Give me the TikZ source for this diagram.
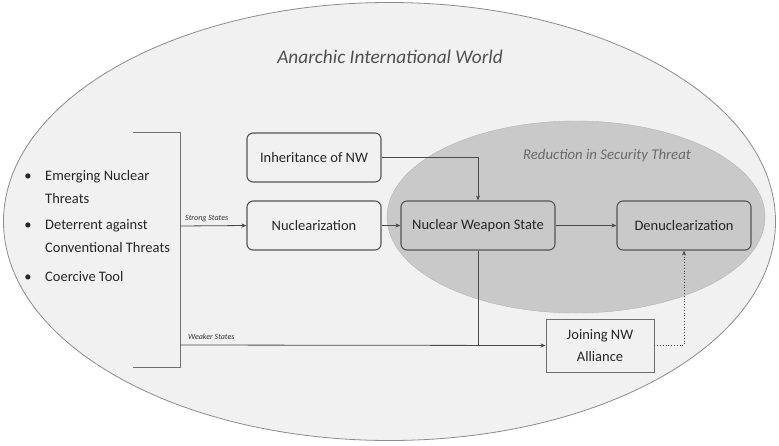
\documentclass[tikz,border=0pt]{standalone}
\usepackage{fontspec}
\setmainfont{Carlito}
\usetikzlibrary{arrows.meta,calc}
\definecolor{outerfill}{HTML}{F1F1F1}
\definecolor{outerline}{HTML}{8C8C8C}
\definecolor{innerfill}{HTML}{C9C9C9}
\definecolor{boxline}{HTML}{555555}
\definecolor{conline}{HTML}{4A4A4A}
\definecolor{titlegray}{HTML}{505050}
\definecolor{redgray}{HTML}{6A6A6A}
\tikzset{
  rbox/.style={draw=boxline, line width=1.1pt, rounded corners=6pt, minimum height=49pt, font=\fontsize{14.5}{17}\selectfont, text=black!85, inner sep=0pt},
  sbox/.style={draw=boxline!85, line width=0.9pt, minimum height=53pt, minimum width=108pt, font=\fontsize{14.5}{22}\selectfont, align=center, text=black!85, inner sep=0pt},
  con/.style={draw=conline, line width=0.8pt, -{Stealth[length=5pt,width=4pt]}},
  plain/.style={draw=conline, line width=0.8pt},
  item/.style={anchor=base west, font=\fontsize{14.5}{23}\selectfont, text=black!85, inner sep=0pt},
  bul/.style={anchor=base, font=\fontsize{14.5}{23}\selectfont, text=black!85, inner sep=0pt},
  lab/.style={font=\itshape\fontsize{8}{9}\selectfont, text=black!80, inner sep=0pt, anchor=base west}
}
\begin{document}
\begin{tikzpicture}[x=1pt,y=-1pt]
\useasboundingbox (0,0) rectangle (779,445);
\fill[white] (0,0) rectangle (779,445);
% outer world
\draw[fill=outerfill, draw=outerline, line width=0.8pt] (389.5,221.5) ellipse [x radius=386, y radius=219];
\node[font=\itshape\fontsize{19.3}{22}\selectfont, text=titlegray] (title) at (390,57) {Anarchic International World};
% inner ellipse
\draw[fill=innerfill, draw=innerfill!90!black, line width=0.4pt] (576,217) ellipse [x radius=189, y radius=96];
\node[font=\itshape\fontsize{14.8}{17}\selectfont, text=redgray] (red) at (607,156) {Reduction in Security Threat};
% bracket
\draw[draw=outerline!80!black, line width=0.8pt] (133,132) -- (180,132) -- (180,367) -- (133,367);
% bullets
\node[bul] (d1) at (28,180) {•};
\node[item] (i1a) at (45,180) {Emerging Nuclear};
\node[item] (i1b) at (45,203) {Threats};
\node[bul] (d2) at (28,229) {•};
\node[item] (i2a) at (45,229) {Deterrent against};
\node[item] (i2b) at (45,252) {Conventional Threats};
\node[bul] (d3) at (28,281) {•};
\node[item] (i3) at (45,281) {Coercive Tool};
% boxes
\node[rbox, minimum width=134pt] (inh) at (314,157.5) {Inheritance of NW};
\node[rbox, minimum width=134pt] (nuc) at (314,225.5) {Nuclearization};
\node[rbox, minimum width=154pt] (nws) at (478,225.5) {Nuclear Weapon State};
\node[rbox, minimum width=134pt] (den) at (684,225.5) {Denuclearization};
\node[sbox] (join) at (600,345.5) {Joining NW\\Alliance};
% connectors
\coordinate (bs) at (180,226);
\coordinate (bw) at (180,345);
\draw[con] (bs) -- (nuc.west);
\node[lab] (ls) at (185,220) {Strong States};
\draw[con] (bw) -- (join.west);
\node[lab] (lw) at (188,339) {Weaker States};
\draw[con] (inh.east) -| (nws.north);
\draw[con] (nuc) -- (nws);
\draw[con] (nws) -- (den);
\draw[plain] (nws.south) -- (nws.south |- join.west);
\draw[con, dotted] (join.east) -| (den.south);
\end{tikzpicture}
\end{document}
